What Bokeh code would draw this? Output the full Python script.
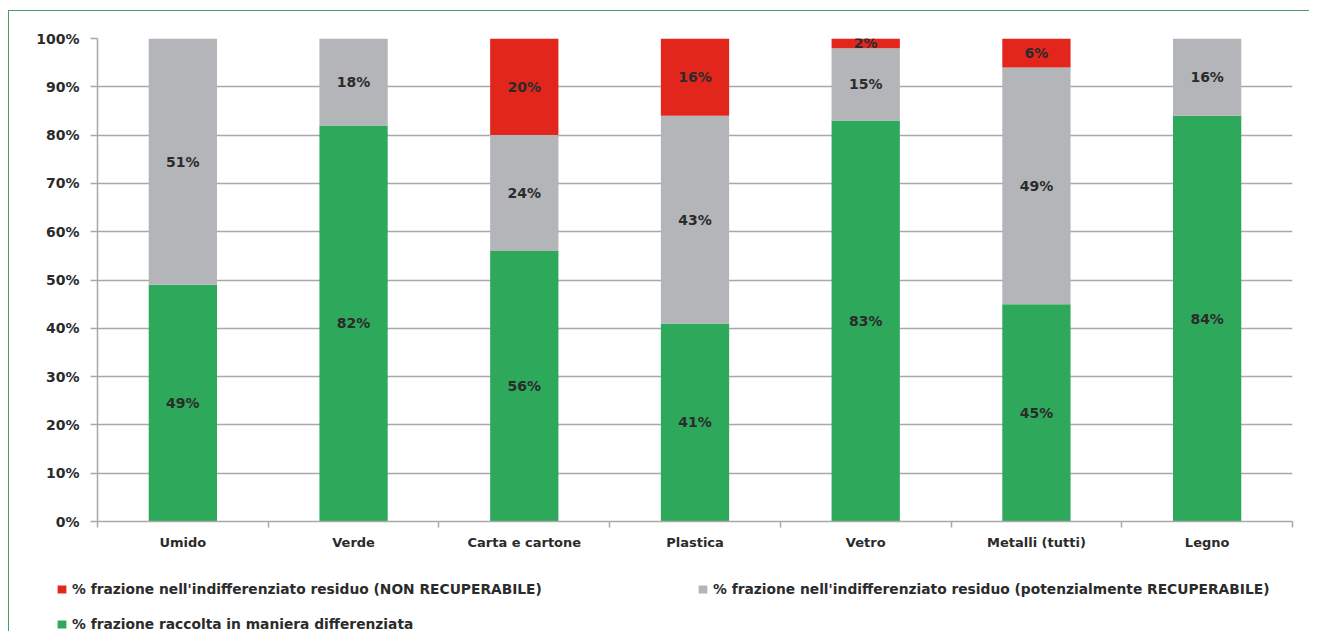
from bokeh.plotting import figure
from bokeh.layouts import column
from bokeh.models import (ColumnDataSource, FixedTicker, PrintfTickFormatter, Legend,
                          LegendItem, Range1d)
from bokeh.core.properties import value
from bokeh.embed import file_html
from bokeh.resources import INLINE

categories = ["Umido", "Verde", "Carta e cartone", "Plastica", "Vetro", "Metalli (tutti)", "Legno"]
differenziata = [49, 82, 56, 41, 83, 45, 84]
recuperabile = [51, 18, 24, 43, 15, 49, 16]
non_recuperabile = [0, 0, 20, 16, 2, 6, 0]
label_non = "% frazione nell'indifferenziato residuo (NON RECUPERABILE)"
label_rec = "% frazione nell'indifferenziato residuo (potenzialmente RECUPERABILE)"
label_diff = "% frazione raccolta in maniera differenziata"
y_ticks = [0, 10, 20, 30, 40, 50, 60, 70, 80, 90, 100]

GREEN = "#2ea95b"
GRAY = "#b3b5b8"
RED = "#e3261c"
AXIS = "#a9a9a9"
TEXT = "#2b2b2b"
FONT = "DejaVu Sans"

n = len(categories)
xs = [i + 0.5 for i in range(n)]
src = ColumnDataSource(dict(x=xs, diff=differenziata, rec=recuperabile, non=non_recuperabile))

p = figure(width=1300, height=550, output_backend="svg", toolbar_location=None,
           x_range=Range1d(0, n), y_range=Range1d(0, 100),
           min_border_left=88, min_border_right=17, min_border_top=27, min_border_bottom=40)
p.outline_line_color = None
p.background_fill_color = "white"
p.border_fill_color = "white"
p.frame_align = False

rs = p.vbar_stack(["diff", "rec", "non"], x="x", width=0.4, color=[GREEN, GRAY, RED],
                  line_color=None, source=src)

# segment labels
lx, ly, lt = [], [], []
for i in range(n):
    base = 0
    for v in (differenziata[i], recuperabile[i], non_recuperabile[i]):
        if v > 0:
            lx.append(xs[i]); ly.append(base + v / 2); lt.append(f"{v}%")
        base += v
p.text(x=lx, y=ly, text=lt, text_align="center", text_baseline="middle",
       text_font=value(FONT), text_font_style="bold", text_font_size="14px", text_color=TEXT)

# y axis
p.yaxis.ticker = FixedTicker(ticks=y_ticks)
p.yaxis.formatter = PrintfTickFormatter(format="%d%%")
p.yaxis.major_tick_in = 0
p.yaxis.major_tick_out = 7
p.yaxis.minor_tick_line_color = None
p.yaxis.axis_line_color = AXIS
p.yaxis.axis_line_width = 1.5
p.yaxis.major_tick_line_color = AXIS
p.yaxis.major_tick_line_width = 1.5
p.yaxis.major_label_standoff = 11
p.yaxis.major_label_text_font = FONT
p.yaxis.major_label_text_font_style = "bold"
p.yaxis.major_label_text_font_size = "14px"
p.yaxis.major_label_text_color = TEXT

# x axis: labels at centres, ticks at boundaries
p.xaxis.ticker = FixedTicker(ticks=xs, minor_ticks=list(range(n + 1)))
p.xaxis.major_label_overrides = {x: c for x, c in zip(xs, categories)}
p.xaxis.major_tick_line_color = None
p.xaxis.minor_tick_in = 0
p.xaxis.minor_tick_out = 6
p.xaxis.minor_tick_line_color = AXIS
p.xaxis.minor_tick_line_width = 1.5
p.xaxis.axis_line_color = AXIS
p.xaxis.axis_line_width = 1.5
p.xaxis.major_label_standoff = 7
p.xaxis.major_label_text_font = FONT
p.xaxis.major_label_text_font_style = "bold"
p.xaxis.major_label_text_font_size = "13px"
p.xaxis.major_label_text_color = TEXT

p.xgrid.grid_line_color = None
p.ygrid.grid_line_color = AXIS
p.ygrid.grid_line_width = 1.5

# legend strip below the chart
q = figure(width=1300, height=70, output_backend="svg", toolbar_location=None,
           x_range=Range1d(0, 1300), y_range=Range1d(0, 70),
           x_axis_location=None, y_axis_location=None,
           min_border=0, min_border_left=0, min_border_right=0, min_border_top=0, min_border_bottom=0)
q.frame_align = False
q.outline_line_color = None
q.xgrid.grid_line_color = None
q.ygrid.grid_line_color = None
q.border_fill_color = "white"
# zero-size proxy renderers that only carry the legend swatches
d_non = q.vbar(x=[0], top=[0], bottom=[0], width=0, fill_color=RED, line_alpha=0)
d_rec = q.vbar(x=[0], top=[0], bottom=[0], width=0, fill_color=GRAY, line_alpha=0)
d_diff = q.vbar(x=[0], top=[0], bottom=[0], width=0, fill_color=GREEN, line_alpha=0)

def make_legend(label, r, loc):
    lg = Legend(items=[LegendItem(label=label, renderers=[r])], location=loc,
                padding=0, margin=0, border_line_color=None, background_fill_alpha=0,
                glyph_width=11, glyph_height=10, label_standoff=5, label_height=16,
                label_text_font=FONT, label_text_font_style="bold",
                label_text_font_size="13.8px", label_text_color=TEXT)
    q.add_layout(lg)

make_legend(label_non, d_non, (47, 34))
make_legend(label_rec, d_rec, (688, 34))
make_legend(label_diff, d_diff, (47, -1))

layout = column(p, q, spacing=0,
                styles={"border-top": "1px solid #4b9e62", "border-left": "1px solid #4b9e62",
                        "margin-top": "10px", "margin-left": "8px"})

open("out.html", "w").write(file_html(layout, INLINE))
